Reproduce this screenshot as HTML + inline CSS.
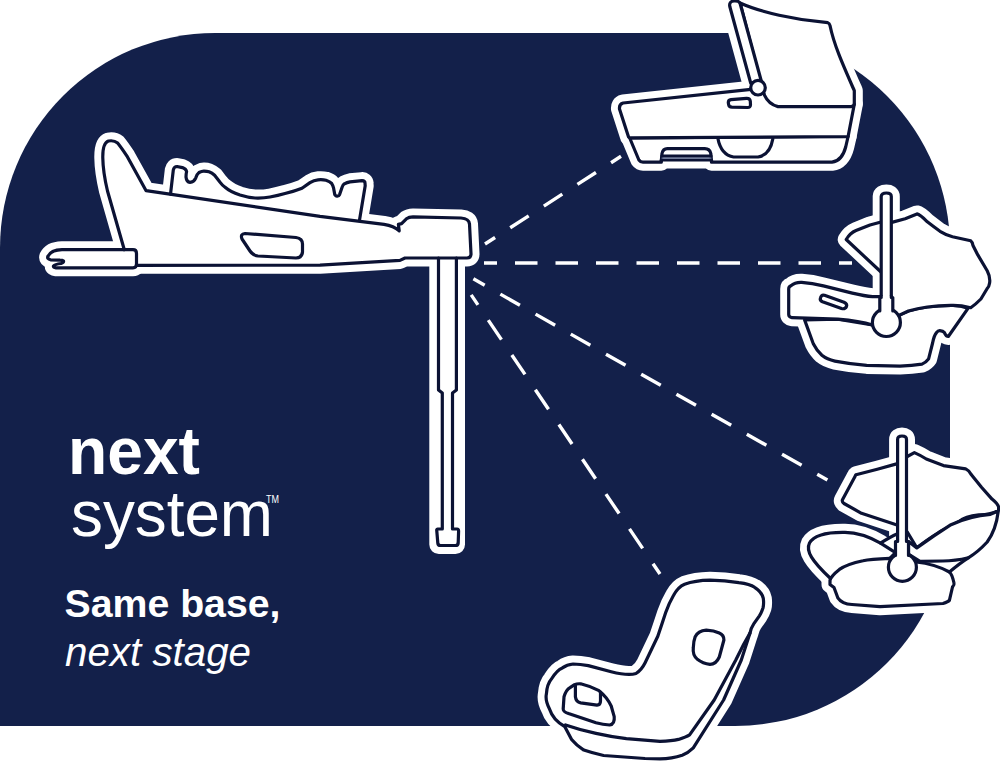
<!DOCTYPE html>
<html><head><meta charset="utf-8">
<style>
html,body{margin:0;padding:0;background:#fff;}
body{width:1000px;height:761px;overflow:hidden;}
svg{display:block;}
.h{fill:#fff;stroke:#fff;stroke-width:17;stroke-linejoin:round;stroke-linecap:round;}
.f{fill:#fff;stroke:none;}
.l{fill:none;stroke:#0b1234;stroke-width:3.2;stroke-linejoin:round;stroke-linecap:round;}
.fl{fill:#fff;stroke:#0b1234;stroke-width:3.2;stroke-linejoin:round;stroke-linecap:round;}
.d{fill:none;stroke:#fff;stroke-width:3.4;}
text{font-family:"Liberation Sans",sans-serif;fill:#fff;}
</style></head>
<body>
<svg width="1000" height="761" viewBox="0 0 1000 761">
<defs>
 <!-- BASE -->
 <path id="bFoot" d="M62,249.7 L133,249.7 Q136.5,249.7 136.5,253.5 L136.5,264 Q136.5,267.8 133,267.8 L56,267.8 Q53,267.5 53.5,266 Q55,264.2 61,263.5 Q64,262.5 63.5,261 Q62.5,260.2 60,260.2 L50.5,259.8 Q47,259 47.8,256.5 Q51,250 62,249.7 Z"/>
 <path id="bBody" d="M124.3,249.7 L107.5,191 Q103,172 102.8,158 Q102.5,143 108.4,141 Q114,140 117.6,142.9 Q121,147 126.8,155.8 L146.1,190.7 L320,216.4 L384,224.4 Q394,226 399.2,230.8 L398.4,224.4 L401.6,223.6 L406.4,218.8 Q409,217 413,216.9 L461,218 Q469,218.5 469.5,224 L471,254 Q471,258 467,258 L439,258 L405,258 L400,260.4 L320,265.2 L136.5,265.3"/>
 <path id="bBump" d="M170.5,194.2 L173.3,170 Q174,166.5 177,166.5 L182.4,167.6 Q186,169 186.6,171.5 Q186,174 186,177 Q186.5,182 190,182.3 Q194,182 195.7,178.1 Q197,174 199,172.5 Q202,171 204,171.1 Q207,171.2 209,171.8 Q212,173 214.6,175.3 L219.5,181.6 Q222,185 225.1,187.2 Q230,191.5 240,195 Q248,197.5 255,198 Q263,198.3 270,197 Q278,195.5 285,193.5 Q295,191 302,188.2 L310,182.6 Q314,180 318,179.8 Q323,179.5 326,180.2 Q330,181.5 331.6,183.4 Q333,185.5 333.6,188.2 L334.8,194.6 Q336,196.5 337.2,196.2 Q339,196 339.6,194.6 L342,187.4 Q343,184.5 344.4,183.8 Q347,182.3 350,181.8 L362,180.6 Q365,180.8 365,183 L365.2,185.8 L359.6,219.6"/>
 <path id="bBodyC" d="M124.3,249.7 L107.5,191 Q103,172 102.8,158 Q102.5,143 108.4,141 Q114,140 117.6,142.9 Q121,147 126.8,155.8 L146.1,190.7 L320,216.4 L384,224.4 Q394,226 399.2,230.8 L398.4,224.4 L401.6,223.6 L406.4,218.8 Q409,217 413,216.9 L461,218 Q469,218.5 469.5,224 L471,254 Q471,258 467,258 L439,258 L405,258 L400,260.4 L320,265.2 L136.5,265.3 L136.5,250 Z"/>
 <path id="bBumpC" d="M170.5,194.2 L173.3,170 Q174,166.5 177,166.5 L182.4,167.6 Q186,169 186.6,171.5 Q186,174 186,177 Q186.5,182 190,182.3 Q194,182 195.7,178.1 Q197,174 199,172.5 Q202,171 204,171.1 Q207,171.2 209,171.8 Q212,173 214.6,175.3 L219.5,181.6 Q222,185 225.1,187.2 Q230,191.5 240,195 Q248,197.5 255,198 Q263,198.3 270,197 Q278,195.5 285,193.5 Q295,191 302,188.2 L310,182.6 Q314,180 318,179.8 Q323,179.5 326,180.2 Q330,181.5 331.6,183.4 Q333,185.5 333.6,188.2 L334.8,194.6 Q336,196.5 337.2,196.2 Q339,196 339.6,194.6 L342,187.4 Q343,184.5 344.4,183.8 Q347,182.3 350,181.8 L362,180.6 Q365,180.8 365,183 L365.2,185.8 L359.6,219.6 Z"/>
 <path id="bSlot" d="M245,233.5 L296,237.5 Q302.5,238.5 302.5,244 L302.5,252 Q302,258 296,258 L258,256 Q253,255.5 250,251 L242,239 Q240,234 245,233.5 Z"/>
 <path id="bLeg" d="M438.5,258 L438.5,390 L442.3,393 L442.3,529 L437.5,529 Q436.5,529 436.8,531 L437.8,543 Q438,545.5 440.5,545.5 L455.5,545.5 Q458,545.5 458.2,543 L458.6,531 Q458.6,529 457,529 L452.5,529 L452.5,393 L456.4,390 L456.4,258"/>

 <!-- BASSINET -->
 <path id="sArm" d="M750.7,83 L729.8,6.5 Q728.8,1.5 734,1 Q739.2,0.7 740.1,3.5 L761.3,81 Z"/>
 <path id="sHood" d="M740.1,3 C760,12 795,20 827.8,22.7 Q829.5,23.2 830,25.5 C834,45 843,65 854.3,90.7 L854.3,103.5 Q854,106.6 851,106.6 L778,106.6 Q768.5,104 764.6,95.3 L761.5,86 Z"/>
 <path id="sBody" d="M623.1,103 L751,89.3 L765,92 L854.3,104.3 L848.1,136.5 L631,137.8 Q628.5,137.5 628.4,136.5 L619.5,109 Q619,104 623.1,103 Z"/>
 <path id="sTub" d="M629.7,138 L638.9,160 Q640.5,162.2 643,162.2 L661.3,162.2 L661.3,160 L711.5,160 L711.5,162.2 L832,162.2 Q842,161 845.7,147 L848.1,136.5 Z"/>
 <path id="sSlot" d="M731,99.6 L746.5,98.3 Q750,98.2 750.3,101.2 L750.5,104.8 Q750.5,107.6 747.5,107.5 L732,107.2 Q729,107 728.6,104.4 L728.3,102.5 Q728.3,99.9 731,99.6 Z"/>

 <!-- INFANT CARRIER 1 -->
 <path id="c1Bar" d="M881.2,298 L881.2,196.5 Q881.5,193 886.4,193 Q891.3,193 891.3,196.5 L891.3,298"/>
 <path id="c1Canopy" d="M881,272 L846.2,239.5 Q850,233 856,230.5 L870,225 L882,221.8 L891.8,222.4 L905.2,218.7 L917,213.9 Q920,214.5 927.3,221.8 Q934,227 940,231.3 Q946,235 952.5,236.8 L970.7,240.7 Q972.5,242 973,245.5 L977.8,254.9 L987.2,270.7 Q990.5,277 989.6,283 Q989,287 987.2,288.5 L980.9,299 Q976,304 970.7,307.7 Q960,305 951,305.4 Q938,305.8 927.3,307 Q917,308.5 908.4,311 L899.3,315.3 L886.4,322 L886.4,272 Z"/>
 <path id="c1Shell" d="M790.8,285.9 Q795,282 801.7,282.3 Q812,283 823.4,285.9 L852.3,293.1 Q865,296 872.5,296.7 L881.2,296.5 L881.2,310 L872.5,325 Q860,321 837.8,319.2 L792,317.7 Q788.7,317 788.7,314.5 L788.7,289 Q788.7,286.5 790.8,285.9 Z"/>
 <path id="c1Tub" d="M804.6,319.9 L813.3,343.7 Q817,351 821.9,355.3 Q827,359.5 834.9,361.1 Q850,364 866.7,365.4 L900,366.1 Q912,365.5 922,364.1 Q926.5,362 928.6,358.9 L932.6,343 Q934,335.5 936.5,332.6 Q938,330.5 939.8,330.6 Q943,330.8 944.4,332.6 Q946,336.5 948.3,336.5 L968,308.3 Q960,305 951,305.4 Q938,305.8 927.3,307 Q917,308.5 908.4,311 L899.7,314.8 L886,336 L872.5,325 L837.8,319.2 Z"/>
 <path id="c1Slot" d="M824.5,295.3 L844,302.3 Q847.5,304 846.5,306.5 Q845,309.5 841.5,308.5 L822.5,301.8 Q819.5,300.5 820.5,297.8 Q821.5,294.5 824.5,295.3 Z"/>

 <!-- INFANT CARRIER 2 -->
 <path id="c2Bar" d="M897.6,542 L897.6,439.5 Q897.6,436 902,436 Q906.5,436 906.5,439.5 L906.5,542"/>
 <path id="c2Canopy" d="M856,474.7 L877.3,469.2 L897.5,463.6 L907.3,456.5 L914.4,452.6 Q920,455 926.3,459 L943.4,465.6 L965.7,468.9 Q969,470.5 971,474.2 L981.5,487.3 L992,499.1 Q998,504 998.6,507 L998.6,510 Q992,514.5 978.8,514.9 Q965,516.5 959.1,521.5 L939.4,532 Q925,541 916.8,547.9 L907.3,532 L897,525 L861.5,513.3 L844,503.5 Q841.5,501.5 842.6,499.5 L855,476.5 Q855.5,475 856,474.7 Z"/>
 <path id="c2Back" d="M880.5,543.1 C870,537 858,532.5 845,532.3 C828,532 814,535 809.5,543 C805.5,551 812,561 830,578 L889.9,558.3 L895.5,552.6 Z"/>
 <path id="c2Right" d="M916.8,547.9 Q935,535 951,524.7 Q970,516 990.4,514.4 L998.3,511 Q996,530 987.2,542 Q978,552 968.3,557.8 Q955,561 943,561 L920,561.3 L913.6,557.3 L908.5,554 L908.5,541.5 Z"/>
 <path id="c2Front" d="M889.9,558.3 Q870,559 863,560.7 Q847,564 839.4,569.4 Q831,576 830,580.4 L830,584.4 Q832,586 834,587.5 L837.8,597.8 Q842,604 852,604.5 L880,606.7 L943,603.5 Q948,602 949.4,600.4 L952.5,587 Q954.5,585 954,583 Q952,574 949.4,572 Q935,564 916,562 Z"/>
</defs>

<!-- background navy shape -->
<path d="M0,248 A215,215 0 0 1 215,33 L735,33 A215,215 0 0 1 950,248 L950,511 A215,215 0 0 1 735,726 L0,726 Z" fill="#13204a"/>

<!-- dashed lines -->
<path class="d" d="M485,244 L621,156.3" stroke-dasharray="22 18" stroke-dashoffset="10"/>
<path class="d" d="M484,263 L852,263" stroke-dasharray="22.5 18" stroke-dashoffset="9.5"/>
<path class="d" d="M473.4,278.8 L827.4,480" stroke-dasharray="22.5 18" stroke-dashoffset="9.5"/>
<path class="d" d="M471.2,294.9 L660,574" stroke-dasharray="23.5 18.5" stroke-dashoffset="11.5"/>

<!-- BASE -->
<g class="h"><use href="#bFoot"/><use href="#bBodyC"/><use href="#bBumpC"/><rect x="437.8" y="256" width="18.7" height="289.5" rx="1"/></g>
<g class="f"><use href="#bFoot"/><use href="#bBodyC"/><use href="#bBumpC"/></g>
<g class="l"><use href="#bFoot"/><use href="#bBody"/><use href="#bBump"/><use href="#bSlot"/><use href="#bLeg"/></g>

<!-- BASSINET -->
<g class="h"><use href="#sArm"/><use href="#sHood"/><use href="#sBody"/><use href="#sTub"/></g>
<g class="fl">
 <use href="#sTub"/>
 <path d="M661.3,161 L662,153.5 Q663,148.6 667.3,148.6 L704.8,148.6 Q709.8,148.6 710.8,153.5 L711.5,161" fill="none"/>
 <path d="M662,156.1 L711,156.1" fill="none"/>
 <path d="M662,158.1 L711,158.1" fill="none" stroke="#6a7799" stroke-width="1.2"/>
 <path d="M717.8,138 Q721,155 733.6,157 L758,157 Q770,155 772.8,139" fill="none"/>
 <use href="#sBody"/>
 <use href="#sSlot"/>
 <use href="#sHood"/>
 <use href="#sArm"/>
 <circle cx="758" cy="87.7" r="7.3"/>
</g>

<!-- INFANT CARRIER 1 -->
<g class="h"><use href="#c1Canopy"/><use href="#c1Shell"/><use href="#c1Tub"/><use href="#c1Bar"/><circle cx="886.4" cy="322" r="14"/></g>
<g class="fl">
 <use href="#c1Tub"/>
 <use href="#c1Canopy"/>
 <use href="#c1Shell"/>
 <use href="#c1Slot"/>
 <use href="#c1Bar"/>
 <circle cx="886.4" cy="322.5" r="14"/>
 <path d="M881.2,296 L881.2,297.5 L879.8,297.5 L879.8,311 L886.4,322 L892.8,311 L892.8,297.5 L891.3,297.5 L891.3,296 Z" style="stroke:none"/>
 <path d="M881.2,296 L881.2,297.5 L879.8,297.5 L879.8,311 M891.3,296 L891.3,297.5 L892.8,297.5 L892.8,311" fill="none"/>
</g>

<!-- INFANT CARRIER 2 -->
<g class="h"><use href="#c2Canopy"/><use href="#c2Back"/><use href="#c2Right"/><use href="#c2Front"/><use href="#c2Bar"/><circle cx="902.4" cy="567.3" r="14"/></g>
<g class="fl">
 <use href="#c2Canopy"/>
 <use href="#c2Back"/>
 <use href="#c2Right"/>
 <use href="#c2Front"/>
 <path d="M880.5,543.1 Q890,537 897.5,533.7" fill="none"/>
 <path d="M949.4,572 Q960,563 968.3,557.8" fill="none"/>
 <use href="#c2Bar"/>
 <circle cx="902.4" cy="567.3" r="14"/>
 <path d="M897.6,540 L897.6,541.5 L895.5,541.5 L895.5,556 L902.4,567 L908.5,556 L908.5,541.5 L906.5,541.5 L906.5,540 Z" style="stroke:none"/>
 <path d="M897.6,540 L897.6,541.5 L895.5,541.5 L895.5,555.5 M906.5,540 L906.5,541.5 L908.5,541.5 L908.5,555.5" fill="none"/>
</g>

<!-- TODDLER SEAT -->
<g class="h"><path d="M710,580.2 Q725,580.5 738.8,582.6 Q750,584 754.6,587.3 Q762,592 763.3,598.4 Q764,604 763,608 Q761.5,612.5 759.4,615.8 L753.9,623.7 Q751,628 750,633.1 L748.4,637.9 L741.3,660 L723.6,700 L693.3,747.8 Q688,753 682.2,755.2 Q672,758.7 660,758.9 L645,758.5 L603.6,755.5 Q592,753 583.8,750.1 Q576,745 571.6,739.5 L564.7,726.5 Q553,720 549.5,709 Q545,700 546.4,693.8 Q547,684 551.8,678.5 Q557,670 562.4,667.9 Q567,664.5 573.1,664 Q580,664 588.3,665.6 L611.2,671.7 Q628,676 636,673.5 Q641.5,670 645,663 L657.8,636.2 Q662,624 665.7,612.6 Q669,603 673.6,595.2 Q678,587 684.6,584.2 Q695,580.5 710,580.2 Z"/></g>
<g class="fl">
 <path d="M710,580.2 Q725,580.5 738.8,582.6 Q750,584 754.6,587.3 Q762,592 763.3,598.4 Q764,604 763,608 Q761.5,612.5 759.4,615.8 L753.9,623.7 Q751,628 750,633.1 L748.4,637.9 L741.3,660 L723.6,700 L693.3,747.8 Q688,753 682.2,755.2 Q672,758.7 660,758.9 L645,758.5 L603.6,755.5 Q592,753 583.8,750.1 Q576,745 571.6,739.5 L564.7,726.5 Q553,720 549.5,709 Q545,700 546.4,693.8 Q547,684 551.8,678.5 Q557,670 562.4,667.9 Q567,664.5 573.1,664 Q580,664 588.3,665.6 L611.2,671.7 Q628,676 636,673.5 Q641.5,670 645,663 L657.8,636.2 Q662,624 665.7,612.6 Q669,603 673.6,595.2 Q678,587 684.6,584.2 Q695,580.5 710,580.2 Z"/>
 <path fill="none" d="M565.5,725 Q580,730 596,733.4 Q612,737 626.4,738.7 L660,741.3 Q672,741 678.5,739.4 Q686,737 689.6,734.8 L714.2,700 L735.8,660 L743.7,644.2 L750,633.1"/>
 <path d="M695.2,636.7 Q698,631 706.3,630.2 Q714,630.5 719.3,633 Q724,635 723.9,640 L719.3,657 Q716,664.4 710,664.4 Q703,663.5 697,658.9 Q692.5,655 693.3,647.8 Q693.5,641 695.2,636.7 Z"/>
 <path d="M574.6,684.6 Q577,683.5 580.7,683.8 Q590,686 599,690.7 Q607,697 611.2,706 L614.2,716.6 Q615,724 609.6,725 Q603,724.5 596,722.7 L568.5,713.6 Q563,711.5 563.2,709 L564,696.8 Q566,690 570,687.7 Z"/>
 <path fill="none" d="M575.4,685.5 L575.4,696.8 Q576,702 580.7,702.9 L597,705.2 Q600.5,705 600.5,701 L600.5,692"/>
</g>

<!-- TEXT -->
<text x="68" y="474" font-size="67" font-weight="bold" textLength="132" lengthAdjust="spacingAndGlyphs">next</text>
<text x="71" y="535.5" font-size="64" textLength="202" lengthAdjust="spacingAndGlyphs">system</text>
<text x="266" y="502.5" font-size="10.5" textLength="13" lengthAdjust="spacingAndGlyphs">TM</text>
<text x="64.5" y="617" font-size="38" font-weight="bold" textLength="216" lengthAdjust="spacingAndGlyphs">Same base,</text>
<text x="65" y="666" font-size="40" font-style="italic" textLength="186" lengthAdjust="spacingAndGlyphs">next stage</text>
</svg>
</body></html>
